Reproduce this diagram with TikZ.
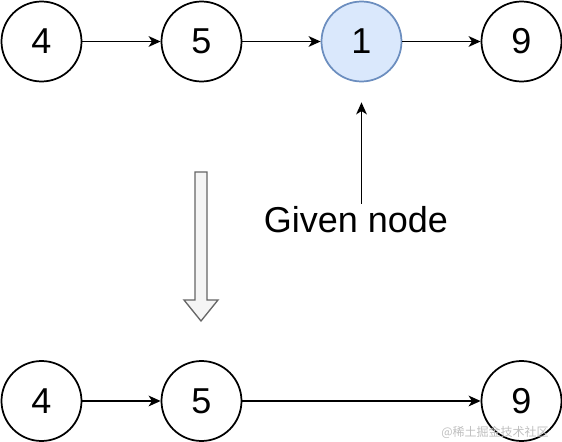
\documentclass[tikz,border=0pt]{standalone}
\usepackage{fontspec}
\setmainfont{Liberation Sans}
\newfontfamily\cjk{Noto Sans CJK SC}
\usepackage{xcolor}
\usetikzlibrary{positioning,shapes,arrows.meta}
\definecolor{givenfill}{HTML}{DAE8FC}
\definecolor{givendraw}{HTML}{6C8EBF}
\begin{document}
\begin{tikzpicture}[x=0.75pt,y=-0.75pt]
\useasboundingbox (0,0) rectangle (562,442);
\tikzstyle{every node}=[font=\fontsize{27}{30}\selectfont];
\tikzstyle{vert}=[draw,shape=circle,line width=1.3pt,minimum size=60pt,inner sep=0pt];
\tikzstyle{arr}=[line width=1.3pt,-{Stealth[length=9pt,width=8pt,inset=2.5pt]}];

% before
\draw node[vert] (v1) at (41.5,41.5) {4};
\draw node[vert] (v2) at (201.5,41.5) {5};
\draw node[vert,fill=givenfill,draw=givendraw] (v3) at (361.5,41.5) {1};
\draw node[vert] (v4) at (521.5,41.5) {9};
\draw[arr] (v1) -- (v2);
\draw[arr] (v2) -- (v3);
\draw[arr] (v3) -- (v4);

\node[anchor=base,inner sep=2pt] (given) at (356,233) {Given node};
\draw[arr,shorten >=15pt] (given.north -| v3) -- (v3);

% hollow arrow
\draw[gray!80!black,fill=gray!8,line width=1pt] (195,172) -- (207,172) -- (207,300) -- (218,300)
  -- (201,321) -- (184,300) -- (195,300) -- cycle;

% after
\draw node[vert] (w1) at (41.5,401) {4};
\draw node[vert] (w2) at (201.5,401) {5};
\draw node[vert] (w4) at (521.5,401) {9};
\draw[arr] (w1) -- (w2);
\draw[arr] (w2) -- (w4);

\node[text=gray!50,font=\cjk\fontsize{9}{10}\selectfont] (mark) at (495,432) {@稀土掘金技术社区};
\end{tikzpicture}
\end{document}
